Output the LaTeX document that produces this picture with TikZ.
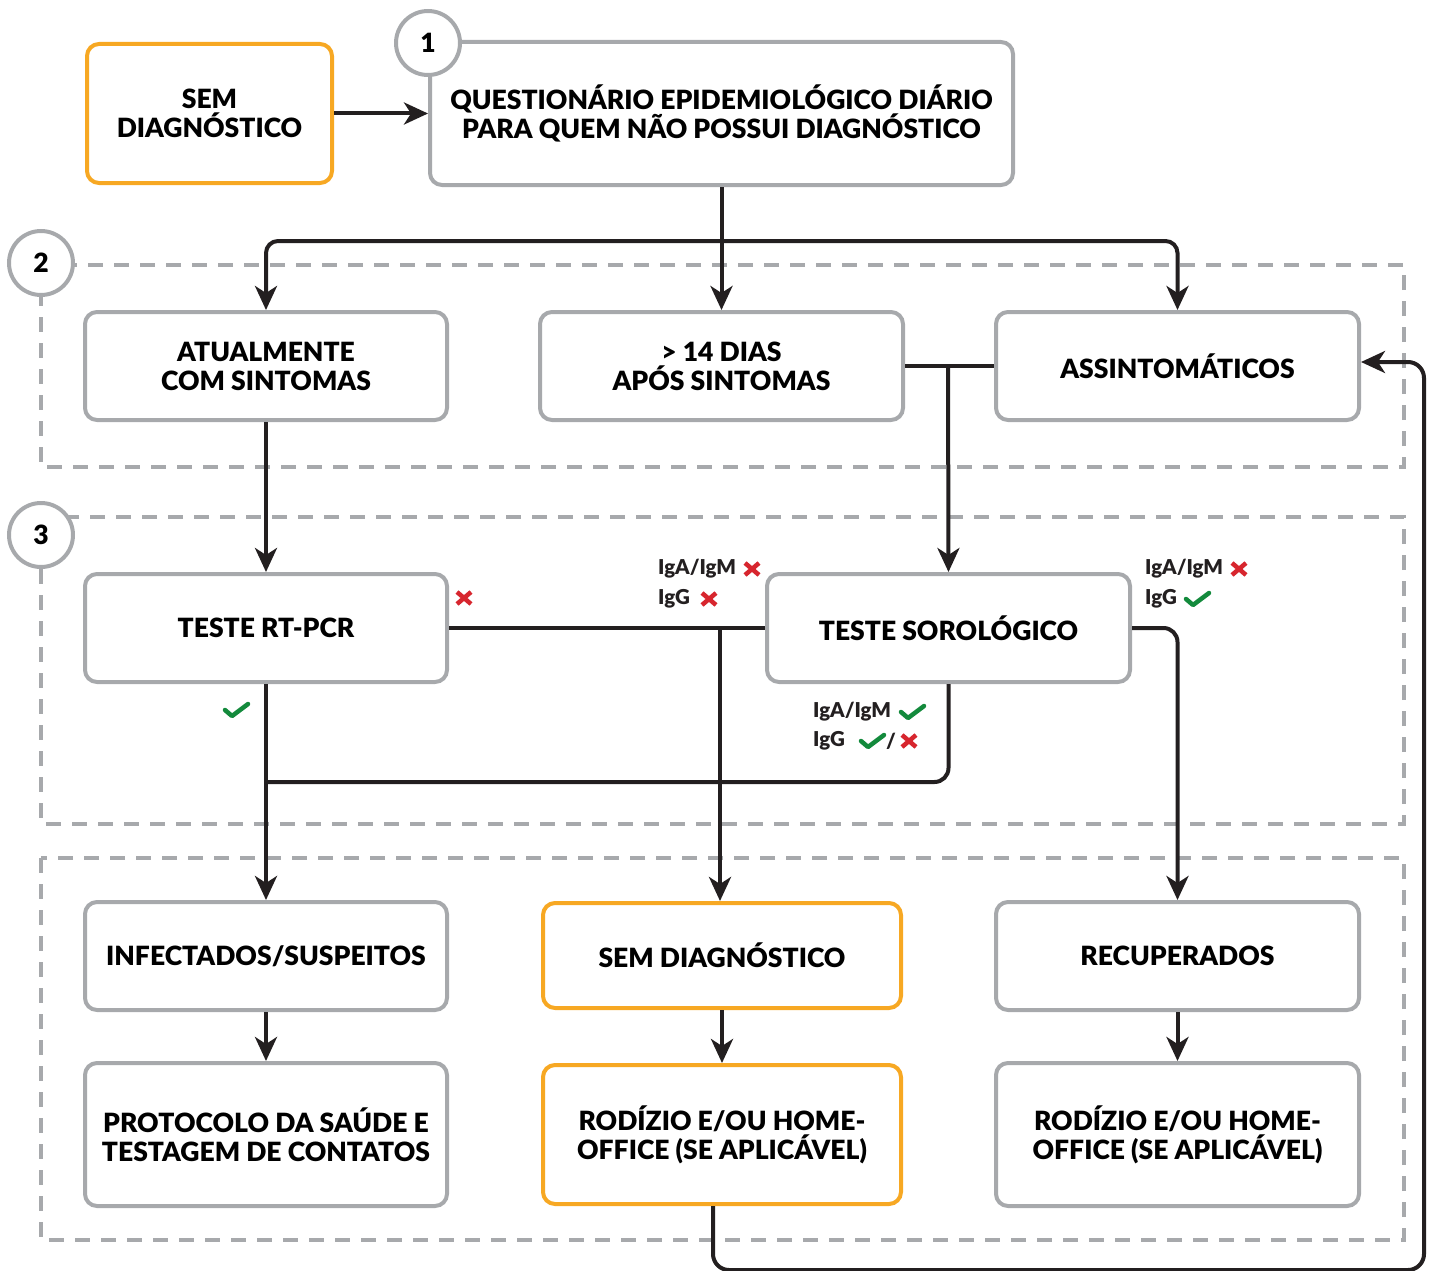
\documentclass[tikz,border=0pt]{standalone}
\usepackage{fontspec}
\setmainfont{Lato}[BoldFont={Lato Black}]
\usetikzlibrary{arrows.meta}
\definecolor{bgray}{HTML}{A7A9AC}
\definecolor{orng}{HTML}{F7A823}
\definecolor{ink}{HTML}{231F20}
\definecolor{xred}{HTML}{D7262E}
\definecolor{okgreen}{HTML}{138A3C}
\newcommand\bxfont{\bfseries\fontsize{26.5}{29}\selectfont}
\newcommand\lbfont{\bfseries\fontsize{20.5}{29}\selectfont}
\begin{document}
\begin{tikzpicture}[x={(1pt,0pt)}, y={(0pt,-1pt)},
  box/.style={draw=bgray, line width=4pt, rounded corners=12pt, fill=white, align=center, font=\bxfont, inner sep=0pt},
  obox/.style={box, draw=orng},
  conn/.style={draw=ink, line width=4pt},
  arr/.style={conn, -{Stealth[length=24pt,width=22pt,inset=7pt]}},
  region/.style={draw=bgray, line width=3.5pt, dash pattern=on 15pt off 11pt},
  numc/.style={circle, draw=bgray, line width=4pt, fill=white, minimum size=64pt, inner sep=0pt, font=\bxfont},
  lbl/.style={anchor=west, inner sep=0pt, font=\lbfont, text=ink},
  chk/.pic={\draw[okgreen, line width=4.5pt, line cap=round, line join=round] (-11,0) -- (-4,6) -- (12,-6);},
  xmark/.pic={\draw[xred, line width=4.5pt] (-7,-6) -- (7,6) (-7,6) -- (7,-6);}
]
\useasboundingbox (0,0) rectangle (1430,1271);

% dashed regions
\draw[region] (41,265) rectangle (1404,467);
\draw[region] (41,517) rectangle (1404,824);
\draw[region] (41,858) rectangle (1404,1240);

% boxes
\node[obox, minimum width=245pt, minimum height=139pt] (sem0) at (209.5,113.5) {SEM\\DIAGNÓSTICO};
\node[box, minimum width=583pt, minimum height=143pt] (quest) at (721.5,113.5) {QUESTIONÁRIO EPIDEMIOLÓGICO DIÁRIO\\PARA QUEM NÃO POSSUI DIAGNÓSTICO};
\node[box, minimum width=362pt, minimum height=108pt] (atual) at (266,366) {ATUALMENTE\\COM SINTOMAS};
\node[box, minimum width=363pt, minimum height=108pt] (dias) at (721.5,366) {> 14 DIAS\\APÓS SINTOMAS};
\node[box, minimum width=363pt, minimum height=108pt] (assint) at (1177.5,366) {ASSINTOMÁTICOS};
\node[box, minimum width=362pt, minimum height=108pt] (rtpcr) at (266,628) {TESTE RT-PCR};
\node[box, minimum width=363pt, minimum height=108pt] (soro) at (948.5,628) {TESTE SOROLÓGICO};
\node[box, minimum width=362pt, minimum height=108pt] (infect) at (266,956) {INFECTADOS/SUSPEITOS};
\node[obox, minimum width=358pt, minimum height=105pt] (semd) at (722,955.5) {SEM DIAGNÓSTICO};
\node[box, minimum width=363pt, minimum height=108pt] (recup) at (1177.5,956) {RECUPERADOS};
\node[box, minimum width=362pt, minimum height=143pt] (proto) at (266,1134.5) {PROTOCOLO DA SAÚDE E\\TESTAGEM DE CONTATOS};
\node[obox, minimum width=358pt, minimum height=139pt] (rod1) at (722,1134.5) {RODÍZIO E/OU HOME-\\OFFICE (SE APLICÁVEL)};
\node[box, minimum width=363pt, minimum height=143pt] (rod2) at (1177.5,1134.5) {RODÍZIO E/OU HOME-\\OFFICE (SE APLICÁVEL)};

% coordinates
\coordinate (split) at (722,241);
\coordinate (j1) at (948,366);
\coordinate (j2) at (720,628);
\coordinate (j3) at (266,782);

% connectors
\draw[arr] (sem0.east) -- (quest.west);
\draw[arr] (quest.south) -- (dias.north);
\draw[arr, rounded corners=12pt] (split) -| (atual.north);
\draw[arr, rounded corners=12pt] (split) -| (assint.north);
\draw[conn] (dias.east) -- (assint.west);
\draw[arr] (j1) -- (soro.north);
\draw[arr] (atual.south) -- (rtpcr.north);
\draw[conn] (rtpcr.east) -- (soro.west);
\draw[arr] (j2) -- (j2 |- semd.north);
\draw[arr, rounded corners=14pt] (soro.east) -| (recup.north);
\draw[arr] (rtpcr.south) -- (infect.north);
\draw[conn, rounded corners=14pt] (soro.south) |- (j3);
\draw[arr] (infect.south) -- (proto.north);
\draw[arr] (semd.south) -- (rod1.north);
\draw[arr] (recup.south) -- (rod2.north);
\draw[arr, rounded corners=16pt] ([xshift=-9pt]rod1.south) -- ++(0,64) -| ([xshift=63pt,yshift=4pt]assint.east) -- ([yshift=4pt]assint.east);

% number circles
\node[numc] (n1) at (428,43) {1};
\node[numc] (n2) at (41,263) {2};
\node[numc] (n3) at (41,535) {3};

% labels and marks
\pic at (464,598) {xmark};
\pic at (236,710) {chk};
\node[lbl] (la1) at (658,569) {IgA/IgM};
\pic at (752,569) {xmark};
\node[lbl] (la2) at (658,599) {IgG};
\pic at (709,599) {xmark};
\node[lbl] (lb1) at (1145,569) {IgA/IgM};
\pic at (1239,569) {xmark};
\node[lbl] (lb2) at (1145,599) {IgG};
\pic at (1197,599) {chk};
\node[lbl] (lc1) at (813,712) {IgA/IgM};
\pic at (912,712) {chk};
\node[lbl] (lc2) at (813,741) {IgG};
\pic at (872,741) {chk};
\node[lbl] (lc3) at (886,741) {/};
\pic at (909,741) {xmark};
\end{tikzpicture}
\end{document}
